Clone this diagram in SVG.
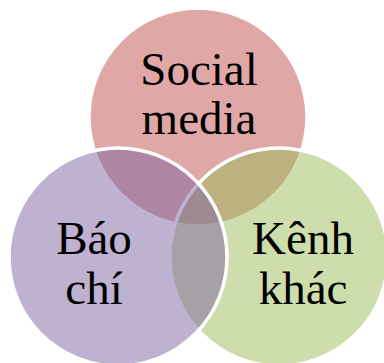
<svg xmlns="http://www.w3.org/2000/svg" width="384" height="363" viewBox="0 0 384 363">
<style>
.c{stroke:#fff;stroke-width:3.5;fill-opacity:0.5}
.t{font-family:"Liberation Serif","Times New Roman",serif;font-size:47px;fill:#000;text-anchor:middle}
</style>
<rect width="384" height="363" fill="#fff"/>
<g id="social-media">
<circle class="c" cx="198" cy="117" r="109" fill="#C0504D"/>
</g>
<g id="kenh-khac">
<circle class="c" cx="279" cy="257" r="109" fill="#9BBB59"/>
</g>
<g id="bao-chi">
<circle class="c" cx="118" cy="257" r="109" fill="#8064A2"/>
</g>
<g id="labels">
<text class="t" x="199" y="85">Social</text>
<text class="t" x="199" y="134">media</text>
<text class="t" x="94" y="254">Báo</text>
<text class="t" x="94" y="304">chí</text>
<text class="t" x="303" y="254">Kênh</text>
<text class="t" x="303" y="304">khác</text>
</g>
<g id="connectors"/>
</svg>
